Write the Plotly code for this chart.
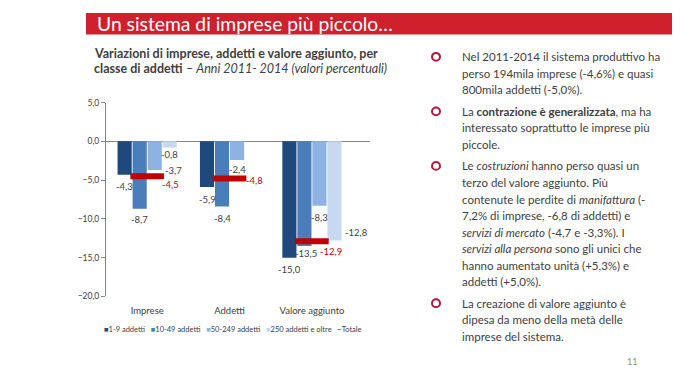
import plotly.graph_objects as go

# ---------------- data ----------------
categories = ["Imprese", "Addetti", "Valore aggiunto"]
series_names = ["1-9 addetti", "10-49 addetti", "50-249 addetti", "250 addetti e oltre"]
v_1_9 = [-4.3, -5.9, -15.0]
v_10_49 = [-8.7, -8.4, -13.5]
v_50_249 = [-3.7, -2.4, -8.3]
v_250_oltre = [-0.8, None, -12.8]
totale_name = "Totale"
totale = [-4.5, -4.8, -12.9]
y_ticks = [5, 0, -5, -10, -15, -20]

title_text = "Un sistema di imprese più piccolo…"
chart_title_1 = "Variazioni di imprese, addetti e valore aggiunto, per"
chart_title_2 = "<b>classe di addetti</b> – <i>Anni 2011- 2014 (valori percentuali)</i>"
bullets = [
    ["Nel 2011-2014 il sistema produttivo ha",
     "perso 194mila imprese (-4,6%) e quasi",
     "800mila addetti (-5,0%)."],
    ["La <b>contrazione è generalizzata</b>, ma ha",
     "interessato soprattutto le imprese più",
     "piccole."],
    ["Le <i>costruzioni</i> hanno perso quasi un",
     "terzo del valore aggiunto. Più",
     "contenute le perdite di <i>manifattura</i> (-",
     "7,2% di imprese, -6,8 di addetti) e",
     "<i>servizi di mercato</i> (-4,7 e -3,3%). I",
     "<i>servizi alla persona</i> sono gli unici che",
     "hanno aumentato unità (+5,3%) e",
     "addetti (+5,0%)."],
    ["La creazione di valore aggiunto è",
     "dipesa da meno della metà delle",
     "imprese del sistema."],
]
page_number = "11"

# ---------------- style ----------------
W, H = 680, 383
SX, SY = 8, 8  # page body margin in the browser
FONT = "Lato, 'Open Sans', sans-serif"
TXT = "#404040"
colors = ["#1F487C", "#4A7EBB", "#8DB3E2", "#C6D9F0"]
RED = "#C00000"
BANNER = "#CF202E"
BARGAP = 0.27
GROUPGAP = 0.06
LABEL_SIZE = 9.5


def px(x):
    return (x - SX) / W


def py(y):
    return 1 - (y - SY) / H


def fmt(v):
    return f"{v:.1f}".replace(".", ",")


all_series = [v_1_9, v_10_49, v_50_249, v_250_oltre]
# label placement style per series / category
label_place = [
    ["below", "below", "below"],
    ["below", "below", "below"],
    ["right", "below", "below"],
    ["below", "below", "right"],
]
label_xshift = [
    [0, 0, 0],
    [0, 0, 2],
    [1, 0, 0],
    [0, 0, 1],
]
label_yshift = [
    [-12, -12, -12],
    [-11, -12, -7],
    [0, -10, -12],
    [-7, 0, 8],
]
tot_xshift = [13, 14, 6]
tot_yshift = [-8, -2, -10]

fig = go.Figure()
annotations = []
nser = len(all_series)
slot = (1 - BARGAP) / nser
for j, (name, vals, col) in enumerate(zip(series_names, all_series, colors)):
    fig.add_trace(go.Bar(
        x=categories, y=vals, name=name, marker=dict(color=col, line=dict(width=0)),
        showlegend=False, hoverinfo="x+y+name"))
    for i, v in enumerate(vals):
        if v is None:
            continue
        xc = i + (j - (nser - 1) / 2) * slot
        if label_place[j][i] == "below":
            annotations.append(dict(
                x=xc, y=v, xref="x", yref="y", text=fmt(v), showarrow=False,
                xanchor="center", yanchor="middle",
                xshift=label_xshift[j][i], yshift=label_yshift[j][i],
                font=dict(family=FONT, size=LABEL_SIZE, color=TXT)))
        else:
            annotations.append(dict(
                x=xc + slot / 2, y=v, xref="x", yref="y", text=fmt(v), showarrow=False,
                xanchor="left", yanchor="middle",
                xshift=label_xshift[j][i], yshift=label_yshift[j][i],
                font=dict(family=FONT, size=LABEL_SIZE, color=TXT)))

fig.add_trace(go.Scatter(
    x=categories, y=totale, name=totale_name, mode="markers",
    marker=dict(symbol="line-ew", size=24, line=dict(color=RED, width=6)),
    cliponaxis=False, showlegend=False))
for i, v in enumerate(totale):
    annotations.append(dict(
        x=i, y=v, xref="x", yref="y", text=fmt(v), showarrow=False,
        xanchor="left", yanchor="middle", xshift=tot_xshift[i], yshift=tot_yshift[i],
        font=dict(family=FONT, size=LABEL_SIZE, color=RED)))

# banner
shapes = [dict(type="rect", xref="paper", yref="paper", x0=px(86), x1=1, y0=py(30), y1=1,
               fillcolor=BANNER, line=dict(width=0), layer="below")]
annotations.append(dict(x=px(95), y=py(19), xref="paper", yref="paper", text=title_text,
                        showarrow=False, xanchor="left", yanchor="middle",
                        font=dict(family=FONT, size=19.3, color="white")))
# chart title
annotations.append(dict(x=px(92), y=py(50), xref="paper", yref="paper", text="<b>" + chart_title_1 + "</b>",
                        showarrow=False, xanchor="left", yanchor="middle",
                        font=dict(family=FONT, size=12.5, color=TXT)))
annotations.append(dict(x=px(92), y=py(65), xref="paper", yref="paper", text=chart_title_2,
                        showarrow=False, xanchor="left", yanchor="middle",
                        font=dict(family=FONT, size=12.5, color=TXT)))

# legend (compact, built from the series names)
leg_items = [f"<span style='color:{c}'>■</span>{n}" for n, c in zip(series_names, colors)]
leg_items.append(f"<span style='color:{RED}'><b>–</b></span>{totale_name}")
annotations.append(dict(x=px(102), y=py(333), xref="paper", yref="paper",
                        text="&nbsp;&nbsp;&nbsp;".join(leg_items), showarrow=False,
                        xanchor="left", yanchor="middle",
                        font=dict(family=FONT, size=7.5, color=TXT)))

# right-hand text panel
LS = 17.0
PG = 22
y = 53
for para in bullets:
    shapes.append(dict(type="circle", xref="paper", yref="paper",
                       x0=px(432), x1=px(440), y0=py(y + 4), y1=py(y - 4),
                       line=dict(color="#B5163B", width=2), fillcolor="rgba(0,0,0,0)"))
    for k, line in enumerate(para):
        annotations.append(dict(x=px(460), y=py(y), xref="paper", yref="paper", text=line,
                                showarrow=False, xanchor="left", yanchor="middle",
                                font=dict(family=FONT, size=11.5, color=TXT)))
        if k < len(para) - 1:
            y += LS
    y += PG

annotations.append(dict(x=px(632), y=py(366), xref="paper", yref="paper", text=page_number,
                        showarrow=False, xanchor="center", yanchor="middle",
                        font=dict(family=FONT, size=9, color="#8C8C8C")))

fig.update_layout(
    width=W, height=H, margin=dict(l=0, r=0, t=0, b=0),
    paper_bgcolor="white", plot_bgcolor="white",
    barmode="group", bargap=BARGAP, bargroupgap=GROUPGAP,
    separators=",.", showlegend=False,
    font=dict(family=FONT, color=TXT),
    xaxis=dict(domain=[px(106), px(370)], showgrid=False, showline=False, ticks="",
               ticklabelstandoff=7,
               tickfont=dict(family=FONT, size=9.5, color=TXT), zeroline=False,
               fixedrange=True),
    yaxis=dict(domain=[py(299), py(100)], range=[-20, 5], tickvals=y_ticks, tickformat=".1f",
               showgrid=False, showline=True, linecolor="#868686", linewidth=1,
               ticks="outside", ticklen=4, tickcolor="#868686",
               zeroline=True, zerolinecolor="#868686", zerolinewidth=1,
               tickfont=dict(family=FONT, size=8.5, color=TXT)),
    shapes=shapes, annotations=annotations,
)

fig.write_html("out.html")
